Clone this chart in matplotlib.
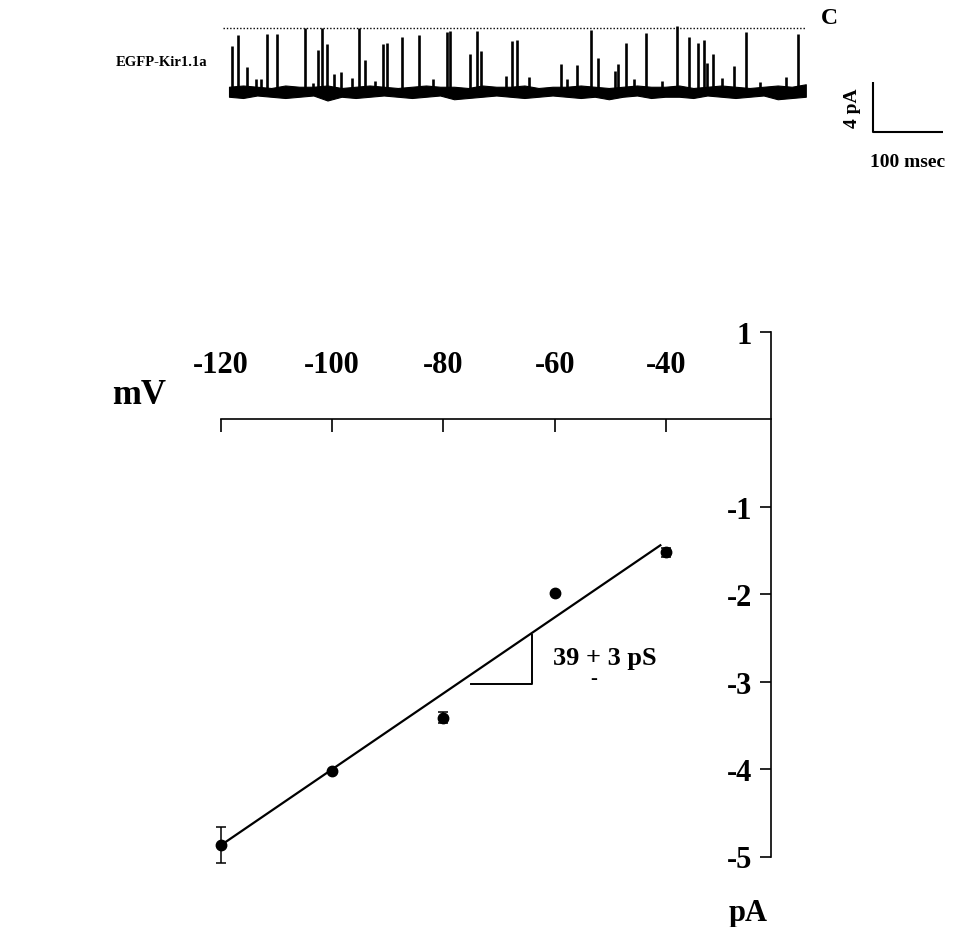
import matplotlib.pyplot as plt
import numpy as np

plt.rcParams['font.family'] = ['Liberation Serif', 'DejaVu Serif']
plt.rcParams['font.weight'] = 'bold'

# single-channel record: closing events (time in ms, current reached in pA)
event_t = [4.3, 12.9, 25.7, 38.6, 45.7, 54.3, 68.6, 108.6, 120.0, 127.1, 132.9,
           140.0, 150.0, 160.0, 175.7, 185.7, 194.3, 208.6, 220.0, 225.7, 247.1,
           271.4, 291.4, 311.4, 315.7, 344.3, 354.3, 360.0, 395.7, 404.3, 411.4,
           428.6, 474.3, 482.9, 497.1, 517.1, 527.1, 551.4, 555.7, 567.1, 578.6,
           595.7, 618.6, 640.0, 657.1, 670.0, 678.6, 682.9, 691.4, 704.3, 721.4,
           738.6, 758.6, 795.7, 812.9]
event_i = [-1.44, -0.56, -3.12, -4.08, -4.08, -0.48, -0.48, 0.0, -4.4, -1.76, 0.0,
           -1.28, -3.68, -3.52, -4.0, 0.0, -2.56, -4.24, -1.28, -1.2, -0.72,
           -0.56, -4.08, -0.32, -0.24, -2.08, -0.24, -1.84, -3.84, -1.04, -0.96,
           -3.92, -2.88, -4.08, -2.96, -0.16, -2.4, -3.44, -2.88, -1.2, -4.08,
           -0.4, -4.24, 0.16, -0.72, -1.2, -0.96, -2.8, -2.08, -4.0, -3.04,
           -0.32, -4.32, -3.92, -0.48]
open_level = -5.0
record_len = 824.0

# noise envelope around the open level, one sample every 20 ms
band_hi = [-4.7, -4.6, -4.7, -4.8, -4.6, -4.7, -4.7, -4.6, -4.8, -4.7, -4.6,
           -4.7, -4.8, -4.7, -4.6, -4.7, -4.7, -4.8, -4.6, -4.7, -4.7, -4.6,
           -4.8, -4.7, -4.7, -4.6, -4.7, -4.8, -4.7, -4.6, -4.7, -4.7, -4.6,
           -4.8, -4.7, -4.6, -4.7, -4.8, -4.7, -4.6, -4.7, -4.5]
band_lo = [-5.5, -5.6, -5.4, -5.5, -5.6, -5.5, -5.4, -5.8, -5.5, -5.6, -5.5,
           -5.4, -5.5, -5.6, -5.5, -5.4, -5.7, -5.6, -5.5, -5.4, -5.5, -5.6,
           -5.5, -5.4, -5.5, -5.6, -5.5, -5.7, -5.5, -5.4, -5.6, -5.5, -5.5,
           -5.6, -5.4, -5.5, -5.6, -5.5, -5.4, -5.7, -5.6, -5.5]

# current-voltage relation
volts = [-120, -100, -80, -60, -40]
amps = [-4.87, -4.02, -3.41, -1.99, -1.52]
amps_err = [0.21, 0.0, 0.06, 0.0, 0.05]
fit_v = [-120, -41]
fit_i = [-4.87, -1.44]
v_ticks = [-120, -100, -80, -60, -40]
i_ticks = [1, -1, -2, -3, -4, -5]

W, H = 969, 928
fig = plt.figure(figsize=(W / 100, H / 100), dpi=100)


def box(x0, y0, x1, y1):
    return [x0 / W, 1 - y1 / H, (x1 - x0) / W, (y1 - y0) / H]


# --- trace ---
tr = fig.add_axes(box(200, 0, 969, 180))
tr.set_xlim(-41.43, 1057.14)
tr.set_ylim(-12.08, 2.32)
tr.axis('off')

band_t = np.linspace(0, record_len, len(band_hi))
tr.fill_between(band_t, band_lo, band_hi, color='black', lw=0.8)
tr.vlines(event_t, open_level, event_i, color='black', lw=1.9)
tr.hlines(0, -8.6, record_len, color='black', lw=1.0, linestyles=(0, (1, 1.4)))
tr.text(857, 0.8, 'C', fontsize=17, ha='center', va='center')

# scale bar
tr.plot([920, 920, 1020], [-4.32, -8.32, -8.32], color='black', lw=1.5,
        solid_capstyle='butt')
tr.text(891, -6.3, '4 pA', fontsize=14, rotation=90, ha='center', va='center')
tr.text(970, -10.0, '100 msec', fontsize=14, ha='center', va='top')

fig.text(116 / W, 1 - 62 / H, 'EGFP-Kir1.1a', fontsize=10.5, ha='left', va='center')

# --- I-V plot ---
ax = fig.add_axes(box(221, 333, 771, 857.5))
ax.set_xlim(-120, -21.1)
ax.set_ylim(-5, 1)
ax.patch.set_visible(False)

ax.spines['right'].set_visible(False)
ax.spines['bottom'].set_visible(False)
ax.spines['top'].set_position(('data', 0))
ax.spines['left'].set_position(('data', -21.1))
for s in ('top', 'left'):
    ax.spines[s].set_linewidth(1.2)

ax.xaxis.tick_top()
ax.set_xticks(v_ticks)
ax.set_xticklabels([str(v) for v in v_ticks])
ax.tick_params(axis='x', direction='in', length=9.5, width=1.2, pad=29, labelsize=22)
ax.set_yticks(i_ticks)
ax.set_yticklabels([str(v) for v in i_ticks])
ax.tick_params(axis='y', direction='out', length=8, width=1.2, pad=5.5, labelsize=22)

ax.plot(fit_v, fit_i, color='black', lw=1.6)
eb = ax.errorbar(volts, amps, yerr=amps_err, fmt='o', color='black', ms=7.5,
                 capsize=3.6, elinewidth=1.1, capthick=1.1)
for art in eb.get_children():
    art.set_clip_on(False)

# slope triangle
ax.plot([-75, -64, -64], [-3.03, -3.03, -2.47], color='black', lw=1.4)
ax.text(-60.3, -2.72, '39 + 3 pS', fontsize=19, ha='left', va='center')
ax.text(-53.0, -2.96, '-', fontsize=15, ha='center', va='center')

ax.text(-134.7, 0.29, 'mV', fontsize=25, ha='center', va='center', clip_on=False)
ax.text(-25.3, -5.64, 'pA', fontsize=22, ha='center', va='center', clip_on=False)

fig.savefig('out.png', dpi=100)
